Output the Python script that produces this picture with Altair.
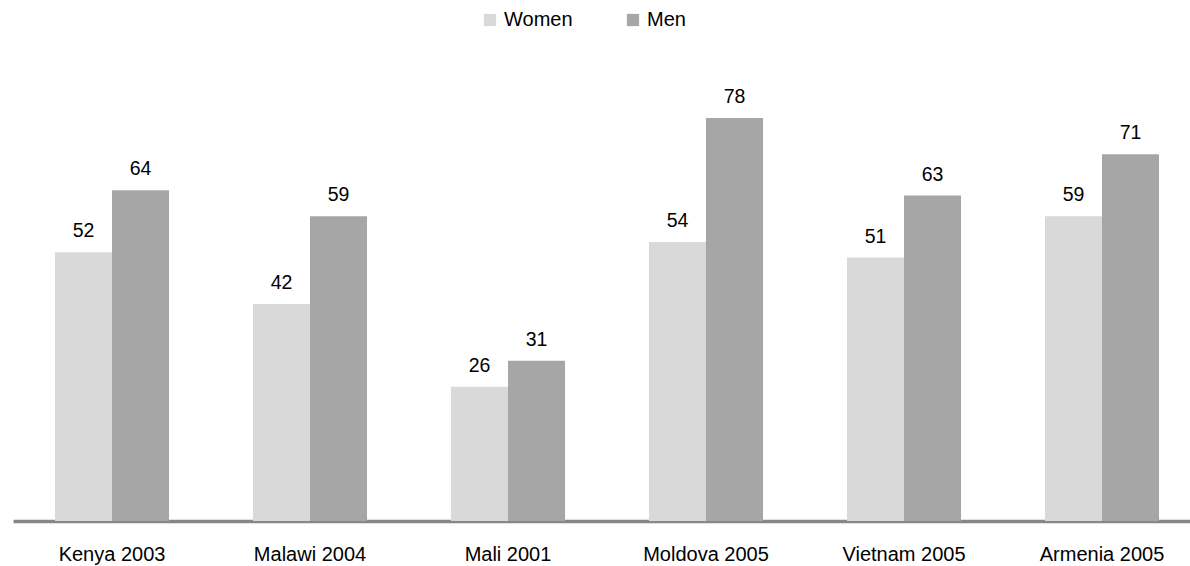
import altair as alt
import pandas as pd

categories = ["Kenya 2003", "Malawi 2004", "Mali 2001", "Moldova 2005", "Vietnam 2005", "Armenia 2005"]
women = [52, 42, 26, 54, 51, 59]
men = [64, 59, 31, 78, 63, 71]
series = ["Women", "Men"]
colors = ["#d9d9d9", "#a6a6a6"]

rows = []
for c, w, m in zip(categories, women, men):
    rows.append({"country": c, "sex": "Women", "value": w})
    rows.append({"country": c, "sex": "Men", "value": m})
df = pd.DataFrame(rows)

FONT = "Liberation Sans"

x = alt.X("country:N", sort=categories, title=None,
          scale=alt.Scale(range=[3, 1191], paddingInner=0.424, paddingOuter=0.212),
          axis=alt.Axis(labelAngle=0, ticks=False, labelFontSize=20, labelFont=FONT,
                        labelColor="#000000", labelPadding=23, domainColor="#878787",
                        domainWidth=3.5))
y = alt.Y("value:Q", scale=alt.Scale(domain=[0, 90]), axis=None)
xo = alt.XOffset("sex:N", sort=series)

bars = alt.Chart(df).mark_bar().encode(
    x=x, xOffset=xo, y=y,
    color=alt.Color("sex:N", sort=series,
                    scale=alt.Scale(domain=series, range=colors),
                    legend=alt.Legend(title=None, orient="none", direction="horizontal",
                                      legendX=470, legendY=-46, symbolType="square",
                                      symbolSize=150, symbolStrokeWidth=0,
                                      labelFontSize=20, labelFont=FONT, labelColor="#000000",
                                      columnPadding=50, labelOffset=4)),
)

labels = alt.Chart(df).mark_text(baseline="alphabetic", dy=-15, fontSize=19.5, font=FONT,
                                 color="#000000").encode(
    x=x, xOffset=xo, y=y, text="value:Q"
)

chart = alt.layer(bars, labels).properties(
    width=1180, height=465,
    padding={"left": 10, "top": 56, "right": 0, "bottom": 45},
    autosize=alt.AutoSizeParams(type="none"),
).configure_view(stroke=None)

chart.save("out.html", embed_options={"renderer": "svg", "actions": False})
